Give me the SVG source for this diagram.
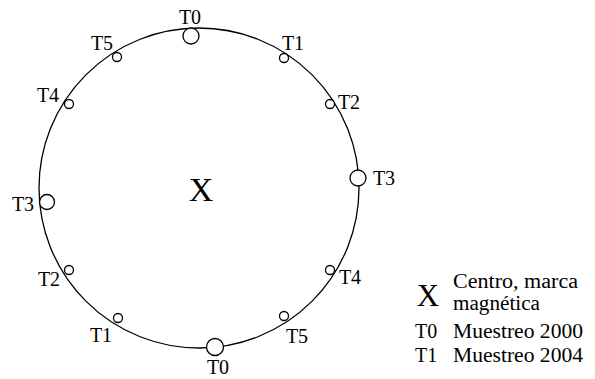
<svg xmlns="http://www.w3.org/2000/svg" width="595" height="379" viewBox="0 0 595 379">
<style>
.ln{fill:none;stroke:#000;stroke-width:1.3}
.m{fill:#fff;stroke:#000;stroke-width:1.3}
text{font-family:"Liberation Serif","Times New Roman",serif;fill:#000}
.l{font-size:20px}
.g{font-size:20px}
.big{font-size:34px}
.bx{font-size:31px}
</style>
<rect width="595" height="379" fill="#fff"/>
<g id="connectors">
<circle class="ln" cx="199" cy="188" r="160"/>
</g>
<g id="center"><text class="big" x="201" y="201" text-anchor="middle">X</text></g>
<g id="t0top"><circle class="m" cx="191" cy="36" r="8"/><text class="l" x="190" y="24" text-anchor="middle">T0</text></g>
<g id="t1r"><circle class="m" cx="284" cy="58" r="4.5"/><text class="l" x="293" y="50" text-anchor="middle">T1</text></g>
<g id="t2r"><circle class="m" cx="330" cy="104" r="4.5"/><text class="l" x="349" y="109" text-anchor="middle">T2</text></g>
<g id="t3r"><circle class="m" cx="358" cy="178" r="8"/><text class="l" x="384" y="185" text-anchor="middle">T3</text></g>
<g id="t4r"><circle class="m" cx="330" cy="270" r="4.5"/><text class="l" x="350" y="284" text-anchor="middle">T4</text></g>
<g id="t5r"><circle class="m" cx="284" cy="316" r="4.5"/><text class="l" x="297" y="343" text-anchor="middle">T5</text></g>
<g id="t0b"><circle class="m" cx="215" cy="347" r="8.5"/><text class="l" x="218" y="374" text-anchor="middle">T0</text></g>
<g id="t1l"><circle class="m" cx="118" cy="318" r="4.5"/><text class="l" x="101" y="342" text-anchor="middle">T1</text></g>
<g id="t2l"><circle class="m" cx="69" cy="270" r="4.5"/><text class="l" x="49" y="286" text-anchor="middle">T2</text></g>
<g id="t3l"><circle class="m" cx="47" cy="202" r="7.5"/><text class="l" x="23" y="211" text-anchor="middle">T3</text></g>
<g id="t4l"><circle class="m" cx="69" cy="104" r="4.5"/><text class="l" x="48" y="102" text-anchor="middle">T4</text></g>
<g id="t5l"><circle class="m" cx="117" cy="57" r="4.5"/><text class="l" x="102" y="50" text-anchor="middle">T5</text></g>
<g id="legend">
<text class="bx" x="428" y="306" text-anchor="middle">X</text>
<text class="g" x="453" y="288" textLength="125" lengthAdjust="spacingAndGlyphs">Centro, marca</text>
<text class="g" x="453" y="310" textLength="87" lengthAdjust="spacingAndGlyphs">magnética</text>
<text class="g" x="415" y="338">T0</text>
<text class="g" x="453" y="338" textLength="130" lengthAdjust="spacingAndGlyphs">Muestreo 2000</text>
<text class="g" x="415" y="362">T1</text>
<text class="g" x="453" y="362" textLength="130" lengthAdjust="spacingAndGlyphs">Muestreo 2004</text>
</g>
</svg>
